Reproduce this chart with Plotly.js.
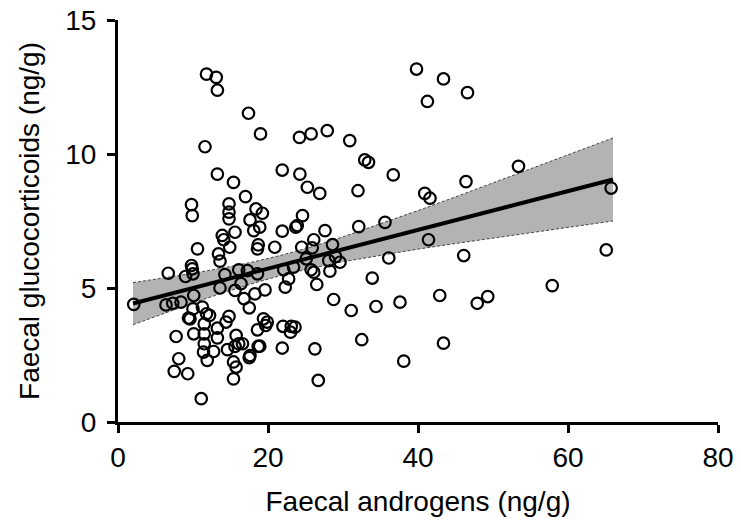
<!DOCTYPE html>
<html>
<head>
<meta charset="utf-8">
<script src="https://cdn.plot.ly/plotly-3.0.1.min.js"></script>
<style>html,body{margin:0;padding:0;background:#fff}#chart{width:741px;height:522px}</style>
</head>
<body>
<div id="chart"></div>
<script>
// Faecal androgens (x) vs faecal glucocorticoids (y), ng/g
const androgens = [2.1,6.7,6.4,7.3,8.4,9.0,7.75,8.1,7.5,9.3,9.4,9.6,9.8,9.9,9.8,9.9,10.0,10.1,10.0,10.1,10.6,11.6,11.8,13.1,13.25,11.1,11.25,11.8,12.2,11.5,11.5,11.5,11.4,11.9,12.75,13.25,13.4,13.6,13.9,14.1,13.6,14.25,13.25,13.25,14.4,14.8,14.6,14.8,14.8,14.8,14.9,15.4,15.6,15.6,15.4,15.4,15.75,15.6,16.1,16.6,15.75,16.1,16.4,16.8,17.0,17.25,17.5,17.5,17.6,17.4,17.6,18.25,18.1,18.4,19.25,18.9,18.6,18.7,18.6,18.6,18.7,18.9,19.0,19.6,19.4,19.9,19.7,20.9,21.9,21.9,22.1,22.3,22.0,21.9,22.75,23.1,23.4,23.6,23.0,23.7,23.9,24.2,24.25,24.6,24.5,25.1,25.25,25.75,25.9,26.1,25.75,26.1,26.5,26.25,26.7,26.9,27.6,27.9,28.25,28.6,28.1,28.75,29.0,29.6,30.9,31.1,32.0,32.1,32.5,32.9,33.4,33.9,34.4,35.6,36.1,36.7,37.6,38.1,39.8,40.9,41.6,41.4,41.25,43.4,42.9,43.4,46.1,46.4,46.6,47.9,49.3,53.4,57.9,65.1,65.75];
const glucocorticoids = [4.39,5.55,4.37,4.43,4.47,5.43,3.19,2.36,1.89,1.80,3.88,3.85,8.11,7.70,5.84,5.71,5.53,4.72,4.22,3.29,6.46,10.27,12.98,12.86,12.38,0.87,4.29,4.04,3.98,3.66,3.29,2.92,2.61,2.30,2.63,9.25,6.27,6.00,6.96,6.80,5.00,5.50,3.50,3.14,3.73,3.94,2.70,8.14,7.83,7.58,6.52,8.94,7.08,4.91,2.24,1.61,3.23,2.82,2.92,2.92,2.05,5.68,5.16,4.60,8.41,5.65,4.26,2.40,2.48,11.52,7.54,4.78,7.14,7.95,7.79,7.27,6.46,6.61,5.53,3.44,2.82,2.83,10.75,4.93,3.85,3.73,3.60,6.52,9.40,7.12,5.68,5.03,3.57,2.76,5.34,3.57,5.78,3.54,3.35,7.27,7.33,10.62,9.25,7.70,6.52,6.09,8.76,10.75,6.50,6.80,5.68,5.59,5.13,2.73,1.55,8.53,7.14,10.87,5.63,6.62,6.02,4.57,6.17,5.96,10.50,4.16,8.63,7.29,3.07,9.78,9.69,5.37,4.31,7.45,6.12,9.22,4.47,2.27,13.17,8.53,8.35,6.80,11.96,12.80,4.72,2.94,6.21,8.97,12.29,4.43,4.68,9.54,5.09,6.42,8.73];

// Regression line and its confidence band
const fitX = [2, 66];
const fitY = [4.42, 9.05];
const bandX = [2,6,10,14,18,22,26,30,35,40,45,50,55,60,66];
const bandUpper = [5.20,5.37,5.55,5.75,5.97,6.24,6.55,6.91,7.39,7.89,8.40,8.92,9.44,9.97,10.60];
const bandLower = [3.63,4.04,4.44,4.82,5.17,5.49,5.75,5.98,6.22,6.45,6.66,6.86,7.06,7.26,7.50];

const traces = [
  {x: bandX, y: bandLower, mode: 'lines', type: 'scatter',
   line: {color: '#222', width: 0.8, dash: '3px,2px'}, hoverinfo: 'skip', showlegend: false},
  {x: bandX, y: bandUpper, mode: 'lines', type: 'scatter', fill: 'tonexty',
   fillcolor: '#b3b3b3', line: {color: '#222', width: 0.8, dash: '3px,2px'}, hoverinfo: 'skip', showlegend: false},
  {x: androgens, y: glucocorticoids, mode: 'markers', type: 'scatter', cliponaxis: false,
   marker: {symbol: 'circle-open', size: 11.5, color: '#000', line: {color: '#000', width: 2.2}}, showlegend: false},
  {x: fitX, y: fitY, mode: 'lines', type: 'scatter',
   line: {color: '#000', width: 4}, showlegend: false}
];

const fam = 'Liberation Sans, Arial, sans-serif';
const layout = {
  width: 741, height: 522,
  margin: {l: 118, r: 23, t: 20, b: 100},
  paper_bgcolor: '#fff', plot_bgcolor: '#fff',
  font: {family: fam, color: '#000'},
  showlegend: false,
  xaxis: {
    range: [0, 80], tickvals: [0, 20, 40, 60, 80], ticktext: ['0', '20', '40', '60', '80'],
    showgrid: false, zeroline: false, showline: true, linecolor: '#000', linewidth: 3,
    ticks: 'outside', ticklen: 8, tickwidth: 3, tickcolor: '#000',
    tickfont: {family: fam, size: 28, color: '#000'},
    title: {text: 'Faecal androgens (ng/g)', font: {family: fam, size: 28, color: '#000'}, standoff: 20}
  },
  yaxis: {
    range: [0, 15], tickvals: [0, 5, 10, 15], ticktext: ['0', '5', '10', '15'],
    showgrid: false, zeroline: false, showline: true, linecolor: '#000', linewidth: 3,
    ticks: 'outside', ticklen: 8, tickwidth: 3, tickcolor: '#000', ticklabelstandoff: 5,
    tickfont: {family: fam, size: 28, color: '#000'},
    title: {text: 'Faecal glucocorticoids (ng/g)', font: {family: fam, size: 28, color: '#000'}, standoff: 18}
  }
};

Plotly.newPlot('chart', traces, layout, {staticPlot: true, displayModeBar: false});
</script>
</body>
</html>
